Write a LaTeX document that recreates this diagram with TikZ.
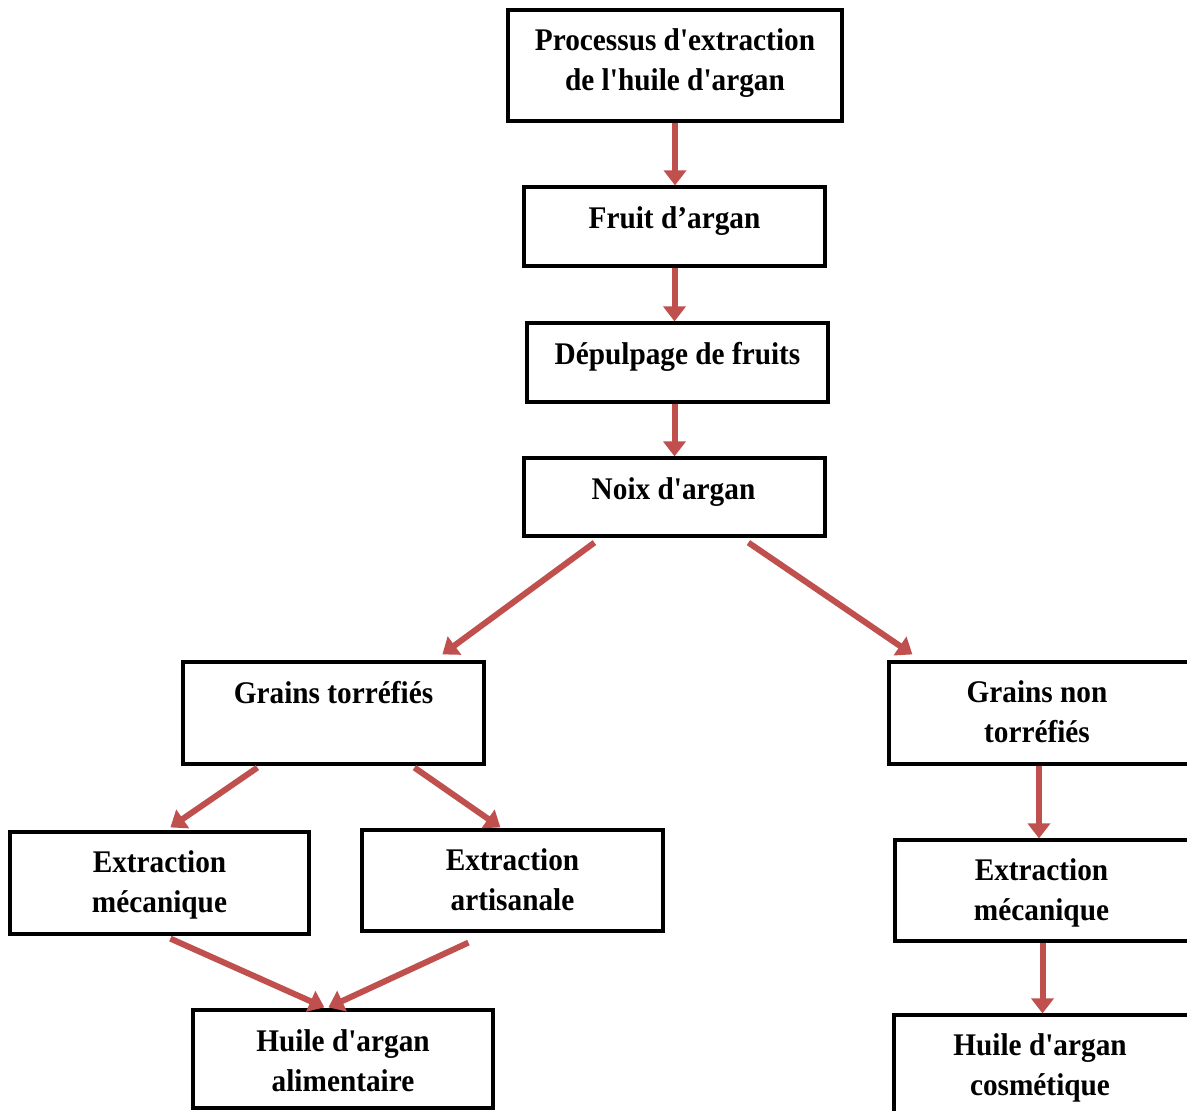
\documentclass[tikz,border=0pt]{standalone}
\usepackage{fontspec}
\newfontfamily\boxfont[FakeStretch=0.93,Ligatures=TeXOff]{Liberation Serif}
\usetikzlibrary{arrows.meta,calc}
\definecolor{arrowred}{HTML}{C0504D}
\newcommand\firstline{\rule{0pt}{0.8em}}
\begin{document}
\begin{tikzpicture}[x=1pt,y=-1pt,
  box/.style={draw=black, line width=3.2pt, inner sep=0pt, rectangle},
  lbl/.style={anchor=north, inner sep=0pt, align=center, font=\boxfont\bfseries\fontsize{31.5}{40}\selectfont},
  flow/.style={draw=arrowred, line width=6pt, -{Triangle[length=15pt,width=22pt]}}
]
\fill[white] (0,0) rectangle (1187,1111);
\useasboundingbox (0,0) rectangle (1187,1111);

% boxes
\node[box, minimum width=334pt, minimum height=111pt] (proc)   at (675,65.5) {};
\node[box, minimum width=301pt, minimum height=79pt]  (fruit)  at (674.5,226.5) {};
\node[box, minimum width=301pt, minimum height=79pt]  (depulp) at (677.5,362.5) {};
\node[box, minimum width=301pt, minimum height=78pt]  (noix)   at (674.5,497) {};
\node[box, minimum width=301pt, minimum height=102pt] (gt)     at (333.5,713) {};
\node[box, minimum width=302pt, minimum height=102pt] (gnt)    at (1040,713) {};
\node[box, minimum width=299pt, minimum height=102pt] (emA)    at (159.5,883) {};
\node[box, minimum width=301pt, minimum height=101pt] (ea)     at (512.5,880.5) {};
\node[box, minimum width=297pt, minimum height=101pt] (emB)    at (1043.5,890.5) {};
\node[box, minimum width=300pt, minimum height=98pt]  (ha)     at (343,1059) {};
\node[box, minimum width=298pt, minimum height=100pt] (hc)     at (1043,1065) {};

% texts
\node[lbl] (tproc)   at ([yshift=-17pt]proc.north)   {\firstline Processus d'extraction\\de l'huile d'argan};
\node[lbl] (tfruit)  at ([yshift=-18pt]fruit.north)  {\firstline Fruit d’argan};
\node[lbl] (tdepulp) at ([yshift=-18pt]depulp.north) {\firstline Dépulpage de fruits};
\node[lbl] (tnoix)   at ([yshift=-18pt,xshift=-1pt]noix.north)   {\firstline Noix d'argan};
\node[lbl] (tgt)     at ([yshift=-18pt]gt.north)     {\firstline Grains torréfiés};
\node[lbl] (tgnt)    at ([yshift=-17pt,xshift=-3pt]gnt.north)    {\firstline Grains non\\torréfiés};
\node[lbl] (temA)    at ([yshift=-17pt]emA.north)    {\firstline Extraction\\mécanique};
\node[lbl] (tea)     at ([yshift=-17pt]ea.north)     {\firstline Extraction\\artisanale};
\node[lbl] (temB)    at ([yshift=-17pt,xshift=-2pt]emB.north)    {\firstline Extraction\\mécanique};
\node[lbl] (tha)     at ([yshift=-18pt]ha.north)     {\firstline Huile d'argan\\alimentaire};
\node[lbl] (thc)     at ([yshift=-17pt,xshift=-3pt]hc.north)     {\firstline Huile d'argan\\cosmétique};

% arrows
\draw[flow] (proc.south) -- (proc.south |- fruit.north);
\draw[flow] (fruit.south) -- (fruit.south |- depulp.north);
\draw[flow] (noix.north |- depulp.south) -- (noix.north);
\draw[flow] ($(noix.south west)+(72,5)$) -- ($(gt.north west)+(261,-6)$);
\draw[flow] ($(noix.south west)+(226,5)$) -- ($(gnt.north west)+(25,-6)$);
\draw[flow] ($(gt.south west)+(76,2)$) -- ($(emA.north west)+(162,-3)$);
\draw[flow] ($(gt.south west)+(233,2)$) -- ($(ea.north west)+(140,-1)$);
\draw[flow] ([xshift=-1pt]gnt.south) -- ([xshift=-1pt]gnt.south |- emB.north);
\draw[flow] ([xshift=-1pt]emB.south) -- ([xshift=-1pt]emB.south |- hc.north);
\draw[flow] ($(emA.south west)+(162,3)$) -- ($(ha.north west)+(133,-1)$);
\draw[flow] ($(ea.south west)+(108,10)$) -- ($(ha.north west)+(137,-1)$);
\end{tikzpicture}
\end{document}
